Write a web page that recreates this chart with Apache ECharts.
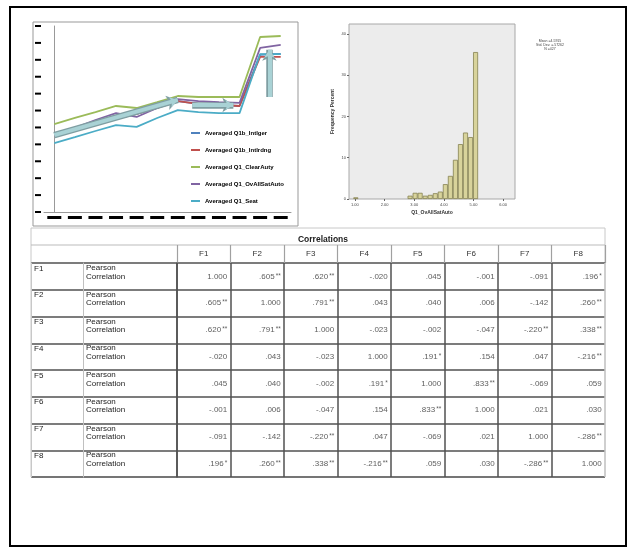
<!DOCTYPE html>
<html>
<head>
<meta charset="utf-8">
<script src="https://cdn.jsdelivr.net/npm/echarts@6/dist/echarts.min.js"></script>
<style>
html, body { margin: 0; padding: 0; background: #fff; }
#main { width: 632px; height: 551px; }
</style>
</head>
<body>
<div id="main"></div>
<script>
// line chart (top left)
var lineCats = ['1', '2', '3', '4', '5', '6', '7', '8', '9', '10', '11', '12'];
var lineNames = ['Averaged Q1b_Intlger', 'Averaged Q1b_Intlrdng', 'Averaged Q1_ClearAuty', 'Averaged Q1_OvAllSatAuto', 'Averaged Q1_Seat'];
var lineColors = ['#4f81bd', '#c0504d', '#9bbb59', '#8064a2', '#4bacc6'];
var blueVals = [4.5, 4.85, 5.2, 5.5, 5.8, 6.15, 6.56, 6.4, 6.33, 6.27, 9.3, 9.35];
var redVals = [4.5, 4.85, 5.2, 5.5, 5.8, 6.15, 6.56, 6.4, 6.33, 6.27, 9.17, 9.17];
var greenVals = [5.2, 5.56, 5.91, 6.27, 6.15, 6.5, 6.86, 6.8, 6.8, 6.8, 10.35, 10.41];
var purpleVals = [4.55, 4.97, 5.44, 5.85, 5.62, 6.15, 6.68, 6.56, 6.5, 6.45, 9.7, 9.88];
var cyanVals = [4.08, 4.43, 4.79, 5.14, 5.03, 5.56, 6.03, 5.91, 5.85, 5.85, 9.34, 9.34];
// hand drawn arrows, in data units
var arrowPaths = [
	[[0, 4.55], [6, 6.63]],
	[[6.7, 6.33], [8.7, 6.33]],
	[[10.45, 6.8], [10.45, 9.6]]
];

// histogram (top right)
var histCenters = [1.03, 2.86, 3.03, 3.20, 3.37, 3.54, 3.71, 3.88, 4.05, 4.22, 4.39, 4.56, 4.73, 4.90, 5.07];
var histPercent = [0.4, 0.8, 1.5, 1.5, 0.8, 1.0, 1.4, 1.8, 3.6, 5.6, 9.5, 13.3, 16.1, 15.0, 35.6];
var histYTicks = [0, 10, 20, 30, 40];
var histXTicks = [1, 2, 3, 4, 5, 6];
var histStats = 'Mean =4.5915\nStd. Dev. =.57262\nN =427';

// correlation table
var corrCols = ['F1', 'F2', 'F3', 'F4', 'F5', 'F6', 'F7', 'F8'];
var corrRows = ['F1', 'F2', 'F3', 'F4', 'F5', 'F6', 'F7', 'F8'];
var corrVals = [
	[1, .605, .620, -.020, .045, -.001, -.091, .196],
	[.605, 1, .791, .043, .040, .006, -.142, .260],
	[.620, .791, 1, -.023, -.002, -.047, -.220, .338],
	[-.020, .043, -.023, 1, .191, .154, .047, -.216],
	[.045, .040, -.002, .191, 1, .833, -.069, .059],
	[-.001, .006, -.047, .154, .833, 1, .021, .030],
	[-.091, -.142, -.220, .047, -.069, .021, 1, -.286],
	[.196, .260, .338, -.216, .059, .030, -.286, 1]
];
var corrSig = [
	['', '**', '**', '', '', '', '', '*'],
	['**', '', '**', '', '', '', '', '**'],
	['**', '**', '', '', '', '', '**', '**'],
	['', '', '', '', '*', '', '', '**'],
	['', '', '', '*', '', '**', '', ''],
	['', '', '', '', '**', '', '', ''],
	['', '', '**', '', '', '', '', '**'],
	['*', '**', '**', '**', '', '', '**', '']
];

var font = 'Arial, "Liberation Sans", sans-serif';
var dark = '#505050';

function fmt(v) {
	return v.toFixed(3).replace(/^(-?)0\./, '$1.');
}

var cells = [];
for (var r = 0; r < corrRows.length; r++) {
	for (var c = 0; c < corrCols.length; c++) {
		cells.push([c, r, corrVals[r][c], corrSig[r][c]]);
	}
}

var lineSeries = [];
var lineData = [blueVals, redVals, greenVals, purpleVals, cyanVals];
for (var i = 0; i < lineNames.length; i++) {
	lineSeries.push({
		name: lineNames[i],
		type: 'line',
		xAxisIndex: 0,
		yAxisIndex: 0,
		symbol: 'none',
		color: lineColors[i],
		lineStyle: { width: 1.8 },
		data: lineData[i]
	});
}

var arrowData = [];
for (var a = 0; a < arrowPaths.length; a++) {
	arrowData.push({ coords: arrowPaths[a] });
}

var splitCols = [];
for (var k = 0; k < corrCols.length; k++) splitCols.push(dark);
splitCols.push('#c8c8c8');

var blackBar = function (w, h) {
	return { width: w, height: h, backgroundColor: '#000' };
};

var option = {
	animation: false,
	title: [{
		text: 'Correlations',
		left: 318,
		top: 230,
		textAlign: 'center',
		textStyle: { fontSize: 8.5, fontWeight: 'bold', fontFamily: font, color: '#222' }
	}, {
		text: histStats,
		left: 545,
		top: 34,
		textAlign: 'center',
		textStyle: { fontSize: 3.5, fontWeight: 'normal', fontFamily: font, color: '#444', lineHeight: 4 }
	}],
	legend: {
		data: lineNames,
		orient: 'vertical',
		left: 186,
		top: 124,
		icon: 'rect',
		itemWidth: 9,
		itemHeight: 2,
		itemGap: 9,
		textStyle: { fontSize: 6, fontWeight: 'bold', fontFamily: '"Liberation Sans Narrow", Arial, sans-serif', color: '#000', lineHeight: 8 }
	},
	graphic: [
		{ type: 'rect', z: 50, shape: { x: 10, y: 7, width: 616, height: 539 }, style: { fill: 'none', stroke: '#000', lineWidth: 2 } },
		{ type: 'rect', z: 1, shape: { x: 33, y: 22, width: 265, height: 204 }, style: { fill: 'none', stroke: '#999', lineWidth: 1 } },
		{ type: 'rect', z: -1, shape: { x: 31, y: 228, width: 574, height: 249 }, style: { fill: 'none', stroke: '#c8c8c8', lineWidth: 1 } },
		{ type: 'line', z: -1, shape: { x1: 31, y1: 245, x2: 605, y2: 245 }, style: { stroke: '#bbb', lineWidth: 1 } }
	],
	grid: [
		{ left: 44, top: 26, width: 247, height: 186 },
		{ left: 349, top: 24, width: 166, height: 175, show: true, backgroundColor: '#ececec', borderColor: '#a8a8a8', borderWidth: 1 },
		{ left: 177, top: 263, width: 428, height: 214 },
		{ left: 31, top: 263, width: 52, height: 214 },
		{ left: 83, top: 263, width: 94, height: 214 },
		{ left: 177, top: 245, width: 428, height: 18 }
	],
	xAxis: [{
		gridIndex: 0,
		type: 'category',
		data: lineCats,
		axisLine: { lineStyle: { color: '#999' } },
		axisTick: { show: false },
		axisLabel: { interval: 0, margin: 4, formatter: function () { return '{b|}'; }, rich: { b: blackBar(14, 3) } }
	}, {
		gridIndex: 0,
		type: 'value',
		min: -0.5,
		max: 11.5,
		show: false
	}, {
		gridIndex: 1,
		type: 'value',
		min: 0.8,
		max: 6.4,
		name: 'Q1_OvAllSatAuto',
		nameLocation: 'middle',
		nameGap: 11,
		nameTextStyle: { fontSize: 5, fontFamily: font, color: '#333', fontWeight: 'bold' },
		axisLine: { show: false },
		axisTick: { length: 2, customValues: histXTicks, lineStyle: { color: '#666' } },
		axisLabel: { fontSize: 4, margin: 4, color: '#444', customValues: histXTicks, formatter: function (v) { return v.toFixed(2); } },
		splitLine: { show: false }
	}, {
		gridIndex: 2,
		type: 'category',
		data: corrCols,
		axisLine: { show: false },
		axisTick: { show: false },
		axisLabel: { show: false },
		splitLine: { show: true, lineStyle: { color: splitCols, width: 1.5 } }
	}, {
		gridIndex: 3, type: 'value', min: 0, max: 1, show: false
	}, {
		gridIndex: 4, type: 'value', min: 0, max: 1, show: false
	}, {
		gridIndex: 5,
		type: 'category',
		data: corrCols,
		position: 'top',
		axisLine: { show: false },
		axisTick: { show: false },
		axisLabel: { interval: 0, inside: true, margin: 9, verticalAlign: 'middle', fontSize: 8, fontFamily: font, color: '#333' },
		splitLine: { show: true, lineStyle: { color: '#a0a0a0', width: 1.2 } }
	}],
	yAxis: [{
		gridIndex: 0,
		type: 'value',
		min: 0,
		max: 11,
		interval: 1,
		axisLine: { show: true, lineStyle: { color: '#999' } },
		axisTick: { show: false },
		splitLine: { show: false },
		axisLabel: { margin: 3, formatter: function () { return '{b|}'; }, rich: { b: blackBar(6, 2) } }
	}, {
		gridIndex: 1,
		type: 'value',
		min: 0,
		max: 42.4,
		name: 'Frequency Percent',
		nameLocation: 'middle',
		nameGap: 14,
		nameTextStyle: { fontSize: 5, fontFamily: font, color: '#333', fontWeight: 'bold' },
		axisLine: { show: false },
		axisTick: { length: 2, customValues: histYTicks, lineStyle: { color: '#666' } },
		axisLabel: { fontSize: 4, margin: 3, color: '#444', customValues: histYTicks },
		splitLine: { show: false }
	}, {
		gridIndex: 2,
		type: 'category',
		data: corrRows,
		inverse: true,
		axisLine: { show: true, lineStyle: { color: dark, width: 1.5 } },
		axisTick: { show: false },
		axisLabel: { show: false },
		splitLine: { show: true, lineStyle: { color: dark, width: 1.5 } }
	}, {
		gridIndex: 3,
		type: 'category',
		data: corrRows,
		inverse: true,
		axisLine: { show: true, lineStyle: { color: '#c8c8c8' } },
		axisTick: { show: false },
		axisLabel: {
			interval: 0, showMinLabel: true, showMaxLabel: true, hideOverlap: false,
			inside: true, margin: 3, align: 'left', verticalAlign: 'middle',
			lineHeight: 8, fontSize: 8, fontFamily: font, color: '#222',
			formatter: function (v) { return v + '\n\n '; }
		},
		splitLine: { show: true, lineStyle: { color: dark, width: 1.5 } }
	}, {
		gridIndex: 4,
		type: 'category',
		data: corrRows,
		inverse: true,
		axisLine: { show: true, lineStyle: { color: '#c0c0c0' } },
		axisTick: { show: false },
		axisLabel: {
			interval: 0, showMinLabel: true, showMaxLabel: true, hideOverlap: false,
			inside: true, margin: 3, align: 'left', verticalAlign: 'middle',
			lineHeight: 8.5, fontSize: 8, fontFamily: font, color: '#222',
			formatter: function () { return 'Pearson\nCorrelation\n '; }
		},
		splitLine: { show: true, lineStyle: { color: dark, width: 1.5 } }
	}, {
		gridIndex: 5,
		type: 'category',
		data: [''],
		show: false
	}],
	series: lineSeries.concat([{
		type: 'lines',
		coordinateSystem: 'cartesian2d',
		xAxisIndex: 1,
		yAxisIndex: 0,
		z: 5,
		symbol: ['none', 'arrow'],
		symbolSize: 11,
		lineStyle: { color: '#7f9ea2', width: 6.5, opacity: 1 },
		data: arrowData
	}, {
		type: 'lines',
		coordinateSystem: 'cartesian2d',
		xAxisIndex: 1,
		yAxisIndex: 0,
		z: 6,
		symbol: ['none', 'arrow'],
		symbolSize: 8,
		lineStyle: { color: '#a9d2d5', width: 4, opacity: 1 },
		data: arrowData
	}, {
		type: 'bar',
		xAxisIndex: 2,
		yAxisIndex: 1,
		barWidth: 5,
		itemStyle: { color: '#d8d39b', borderColor: '#858250', borderWidth: 0.8 },
		data: histCenters.map(function (x, i) { return [x, histPercent[i]]; })
	}, {
		type: 'scatter',
		xAxisIndex: 3,
		yAxisIndex: 2,
		symbol: 'rect',
		symbolSize: 1,
		itemStyle: { color: 'transparent' },
		label: {
			show: true,
			position: 'inside',
			align: 'right',
			offset: [23.5, 0],
			formatter: function (p) {
				var s = '{v|' + fmt(p.value[2]) + '}';
				if (p.value[3]) s += '{s|' + p.value[3] + '}';
				return s;
			},
			rich: {
				v: { fontSize: 8, fontFamily: font, color: '#333' },
				s: { fontSize: 6.5, fontFamily: font, color: '#333', verticalAlign: 'top', padding: [0, 0, 0, 1] }
			}
		},
		data: cells
	}])
};

var chart = echarts.init(document.getElementById('main'));
chart.setOption(option);
</script>
</body>
</html>
